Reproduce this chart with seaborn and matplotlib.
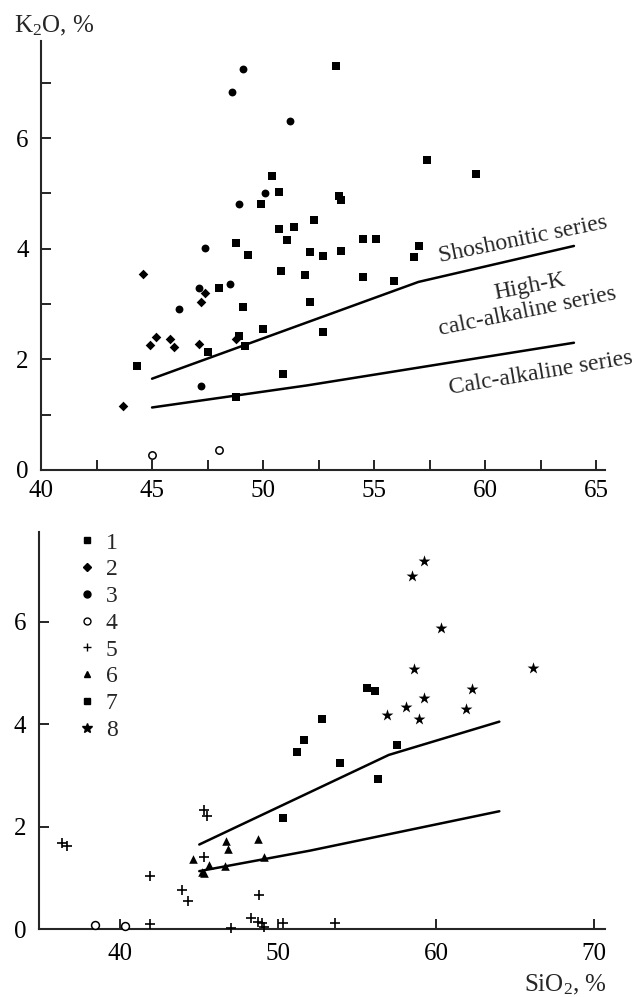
import numpy as np
import pandas as pd
import matplotlib.pyplot as plt
import seaborn as sns
from matplotlib.lines import Line2D
from matplotlib.ticker import MultipleLocator

sns.set_style("ticks")
plt.rcParams["font.family"] = ["Liberation Serif", "DejaVu Serif"]
plt.rcParams["mathtext.fontset"] = "custom"
plt.rcParams["mathtext.rm"] = "Liberation Serif"
plt.rcParams["mathtext.it"] = "Liberation Serif:italic"

# ---- upper panel data (SiO2, K2O) ----
g1_x = [53.3, 57.4, 59.6, 50.4, 50.7, 49.9, 53.4, 53.5, 52.3, 50.7, 51.4, 51.1, 54.5, 55.1,
        48.8, 49.3, 52.1, 52.7, 53.5, 57.0, 56.8, 50.8, 51.9, 54.5, 55.9, 48.0, 49.1, 52.1,
        52.7, 50.0, 48.9, 49.2, 47.5, 44.3, 50.9, 48.8]
g1_y = [7.31, 5.60, 5.35, 5.32, 5.03, 4.81, 4.95, 4.88, 4.52, 4.36, 4.40, 4.15, 4.18, 4.18,
        4.10, 3.89, 3.94, 3.87, 3.96, 4.05, 3.85, 3.60, 3.53, 3.49, 3.42, 3.29, 2.95, 3.04,
        2.50, 2.55, 2.42, 2.24, 2.13, 1.88, 1.74, 1.32]
g2_x = [44.6, 47.4, 47.2, 45.2, 44.9, 45.8, 46.0, 47.1, 48.8, 43.7]
g2_y = [3.54, 3.20, 3.04, 2.40, 2.26, 2.37, 2.23, 2.28, 2.37, 1.16]
g3_x = [49.1, 48.6, 51.2, 50.1, 48.9, 47.4, 47.1, 48.5, 46.2, 47.2]
g3_y = [7.25, 6.84, 6.30, 5.00, 4.81, 4.01, 3.29, 3.36, 2.91, 1.52]
g4a_x = [45.0, 48.0]
g4a_y = [0.27, 0.36]

# ---- lower panel data ----
g4b_x = [38.4, 40.3]
g4b_y = [0.08, 0.06]
g5_x = [36.3, 36.6, 45.3, 45.5, 45.3, 41.9, 43.9, 44.3, 48.8, 41.9, 47.0, 48.3, 48.7, 49.0,
        49.1, 50.3, 53.6]
g5_y = [1.68, 1.62, 2.32, 2.21, 1.41, 1.04, 0.76, 0.54, 0.66, 0.10, 0.02, 0.21, 0.14, 0.12,
        0.04, 0.12, 0.12]
g6_x = [44.6, 46.7, 46.8, 48.7, 49.1, 45.6, 46.6, 45.2, 45.3]
g6_y = [1.37, 1.72, 1.56, 1.76, 1.41, 1.25, 1.23, 1.12, 1.09]
g7_x = [55.6, 56.1, 52.8, 51.6, 51.2, 57.5, 53.9, 56.3, 50.3]
g7_y = [4.70, 4.65, 4.10, 3.69, 3.46, 3.59, 3.24, 2.93, 2.17]
g8_x = [59.2, 58.5, 60.3, 58.6, 66.1, 62.3, 59.2, 58.1, 56.9, 58.9, 61.9]
g8_y = [7.19, 6.89, 5.88, 5.08, 5.10, 4.69, 4.51, 4.34, 4.18, 4.10, 4.30]

# series boundaries
sho_x = [45, 57, 64]
sho_y = [1.65, 3.40, 4.05]
ca_x = [45, 52, 64]
ca_y = [1.13, 1.53, 2.30]

legend_labels = ["1", "2", "3", "4", "5", "6", "7", "8"]

fig = plt.figure(figsize=(6.34, 9.97), dpi=100)
ax1 = fig.add_axes([0.0647, 0.5286, 0.8896, 0.430])
ax2 = fig.add_axes([0.0615, 0.0682, 0.893, 0.398])


def pts(ax, x, y, marker, s, face="black", lw=0.0):
    sns.scatterplot(x=x, y=y, marker=marker, s=s, color="black", facecolor=face,
                    edgecolor="black", linewidth=lw, ax=ax, zorder=3, clip_on=False)


def bounds(ax):
    sns.lineplot(x=sho_x, y=sho_y, sort=False, estimator=None, color="black", lw=1.8, ax=ax)
    sns.lineplot(x=ca_x, y=ca_y, sort=False, estimator=None, color="black", lw=1.8, ax=ax)


# upper panel
bounds(ax1)
pts(ax1, g1_x, g1_y, "s", 40)
pts(ax1, g2_x, g2_y, "D", 24)
pts(ax1, g3_x, g3_y, "o", 32)
pts(ax1, g4a_x, g4a_y, "o", 28, face="white", lw=1.1)

ax1.text(61.7, 4.16, "Shoshonitic series", fontsize=17, rotation=11.5,
         ha="center", va="center")
ax1.text(62.0, 3.31, "High-K", fontsize=17, rotation=11, ha="center", va="center")
ax1.text(61.9, 2.86, "calc-alkaline series", fontsize=17, rotation=11.5,
         ha="center", va="center")
ax1.text(62.5, 1.75, "Calc-alkaline series", fontsize=17, rotation=9.5,
         ha="center", va="center")

ax1.set_xlim(40, 65.4)
ax1.set_ylim(0, 7.75)
ax1.xaxis.set_major_locator(MultipleLocator(5))
ax1.xaxis.set_minor_locator(MultipleLocator(2.5))
ax1.yaxis.set_major_locator(MultipleLocator(2))
ax1.yaxis.set_minor_locator(MultipleLocator(1))

# lower panel
bounds(ax2)
pts(ax2, g4b_x, g4b_y, "o", 32, face="white", lw=1.1)
pts(ax2, g5_x, g5_y, "+", 60, lw=1.2)
pts(ax2, g6_x, g6_y, "^", 38)
pts(ax2, g7_x, g7_y, "s", 34)
pts(ax2, g8_x, g8_y, "*", 80)

ax2.set_xlim(34.85, 70.7)
ax2.set_ylim(0, 7.75)
ax2.xaxis.set_major_locator(MultipleLocator(10))
ax2.yaxis.set_major_locator(MultipleLocator(2))

legend_markers = ["s", "D", "o", "o", "+", "^", "s", "*"]
legend_sizes = [5, 4, 5, 5, 6, 5, 5, 7]
handles = []
for m, ms in zip(legend_markers, legend_sizes):
    face = "white" if m == "o" and len(handles) == 3 else "black"
    handles.append(Line2D([], [], ls="", marker=m, markersize=ms, color="black",
                          markerfacecolor=face, markeredgewidth=1.0))
ax2.legend(handles, legend_labels, loc="upper left", bbox_to_anchor=(0.068, 1.0),
           frameon=False, fontsize=17, handlelength=0.8, handletextpad=0.4,
           labelspacing=0.22, borderpad=0, borderaxespad=0)

for ax in (ax1, ax2):
    ax.set_xlabel("")
    ax.set_ylabel("")
    sns.despine(ax=ax)
    for sp in ("left", "bottom"):
        ax.spines[sp].set_linewidth(1.5)
    ax.tick_params(which="both", direction="in", length=7, width=1.2, labelsize=18,
                   colors="black")
    ax.tick_params(axis="y", pad=9)
    ax.tick_params(axis="x", pad=7)
ax2.tick_params(axis="x", pad=10)

fig.text(0.022, 0.974, "K$_2$O, %", fontsize=18, ha="left", va="center")
fig.text(0.958, 0.012, "SiO$_2$, %", fontsize=18, ha="right", va="center")

fig.savefig("out.png", dpi=100)
